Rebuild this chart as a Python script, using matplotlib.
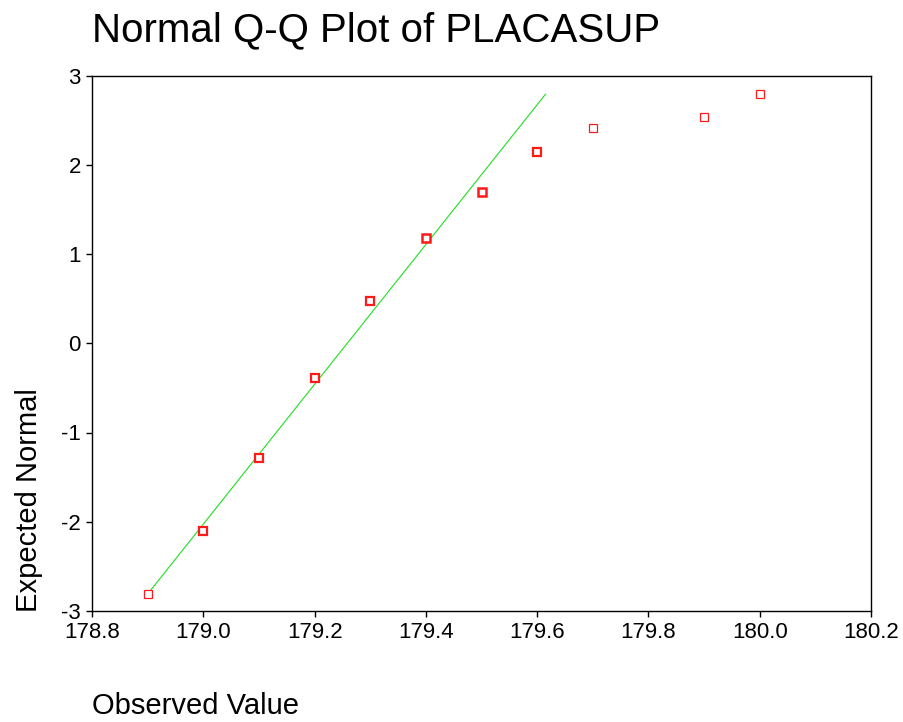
import matplotlib
matplotlib.use("Agg")
import matplotlib.pyplot as plt

plt.rcParams['font.family'] = ['Liberation Sans', 'DejaVu Sans']

# Data
observed = [178.9, 179.0, 179.1, 179.2, 179.3, 179.4, 179.5, 179.6, 179.7, 179.9, 180.0]
expected = [-2.81, -2.10, -1.29, -0.39, 0.47, 1.175, 1.70, 2.14, 2.41, 2.54, 2.79]
line_x = [178.9, 179.615]
line_y = [-2.81, 2.79]
x_ticks = [178.8, 179.0, 179.2, 179.4, 179.6, 179.8, 180.0, 180.2]
y_ticks = [-3, -2, -1, 0, 1, 2, 3]

# marker edge widths (style)
edge_widths = [0.9, 1.6, 1.6, 1.6, 1.6, 1.8, 1.8, 1.6, 0.9, 0.9, 0.9]

fig = plt.figure(figsize=(9.04, 7.22), dpi=100)
ax = fig.add_axes([92/904, 1 - 611/722, (871-92)/904, (611-75.5)/722])

ax.plot(line_x, line_y, color='#22dd22', lw=0.8, zorder=2)
for xv, yv, ew in zip(observed, expected, edge_widths):
    ax.plot([xv], [yv], marker='s', ms=5.6, mfc='white', mec='#ff1a1a', mew=ew,
            linestyle='none', zorder=3)

ax.set_xlim(178.8, 180.2)
ax.set_ylim(-3, 3)
ax.set_xticks(x_ticks)
ax.set_xticklabels([f"{v:.1f}" for v in x_ticks])
ax.set_yticks(y_ticks)
ax.set_yticklabels([str(v) for v in y_ticks])
ax.tick_params(direction='out', length=4, width=1, labelsize=16, pad=4, colors='black')
for s in ax.spines.values():
    s.set_linewidth(1)
    s.set_color('black')

fig.text(92/904, 1 - 41/722, "Normal Q-Q Plot of PLACASUP", fontsize=29,
         ha='left', va='baseline')
fig.text(92/904, 1 - 714/722, "Observed Value", fontsize=21,
         ha='left', va='baseline')
fig.text(37/904, 1 - 612/722, "Expected Normal", fontsize=21, rotation=90,
         rotation_mode='anchor', ha='left', va='baseline')

fig.savefig("out.png", dpi=100)
